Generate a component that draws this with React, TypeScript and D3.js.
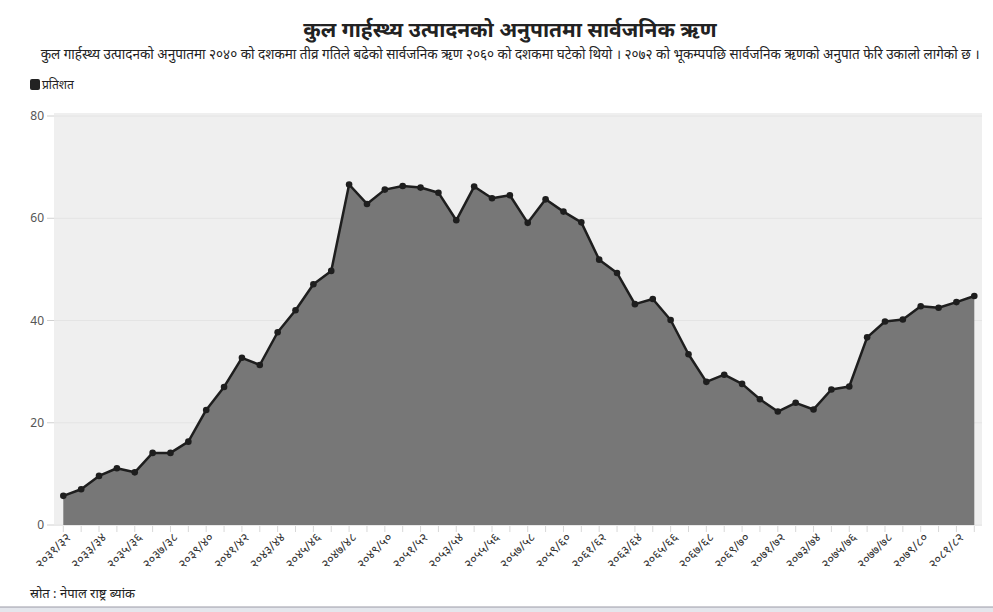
import React from 'react'
import * as d3 from 'd3'

const years = [
  '२०३१/३२', '२०३२/३३', '२०३३/३४', '२०३४/३५', '२०३५/३६', '२०३६/३७', '२०३७/३८', '२०३८/३९',
  '२०३९/४०', '२०४०/४१', '२०४१/४२', '२०४२/४३', '२०४३/४४', '२०४४/४५', '२०४५/४६', '२०४६/४७',
  '२०४७/४८', '२०४८/४९', '२०४९/५०', '२०५०/५१', '२०५१/५२', '२०५२/५३', '२०५३/५४', '२०५४/५५',
  '२०५५/५६', '२०५६/५७', '२०५७/५८', '२०५८/५९', '२०५९/६०', '२०६०/६१', '२०६१/६२', '२०६२/६३',
  '२०६३/६४', '२०६४/६५', '२०६५/६६', '२०६६/६७', '२०६७/६८', '२०६८/६९', '२०६९/७०', '२०७०/७१',
  '२०७१/७२', '२०७२/७३', '२०७३/७४', '२०७४/७५', '२०७५/७६', '२०७६/७७', '२०७७/७८', '२०७८/७९',
  '२०७९/८०', '२०८०/८१', '२०८१/८२', '२०८२/८३',
]

const debtRatio = [
  5.7, 7.0, 9.6, 11.1, 10.3, 14.1, 14.1, 16.3,
  22.5, 27.0, 32.7, 31.3, 37.7, 42.0, 47.1, 49.7,
  66.6, 62.8, 65.6, 66.3, 66.0, 65.0, 59.6, 66.2,
  63.9, 64.5, 59.1, 63.7, 61.3, 59.2, 51.9, 49.3,
  43.2, 44.2, 40.1, 33.4, 28.0, 29.4, 27.6, 24.6,
  22.2, 23.9, 22.6, 26.5, 27.1, 36.7, 39.8, 40.2,
  42.8, 42.5, 43.6, 44.8,
]

const yTicks = [0, 20, 40, 60, 80]

const title = 'कुल गार्हस्थ्य उत्पादनको अनुपातमा सार्वजनिक ऋण'
const subtitle = 'कुल गार्हस्थ्य उत्पादनको अनुपातमा २०४० को दशकमा तीव्र गतिले बढेको सार्वजनिक ऋण २०६० को दशकमा घटेको थियो । २०७२ को भूकम्पपछि सार्वजनिक ऋणको अनुपात फेरि उकालो लागेको छ ।'
const legendLabel = 'प्रतिशत'
const source = 'स्रोत : नेपाल राष्ट्र ब्यांक'

const W = 993
const H = 612
const font = "'Noto Sans', 'Noto Sans Devanagari', sans-serif"

export default function App() {
  const x = d3.scalePoint<string>().domain(years).range([63.3, 974.3])
  const y = d3.scaleLinear().domain([0, 80]).range([525, 116])

  const data = years.map((yr, i) => ({ yr, v: debtRatio[i] }))

  const area = d3.area<{ yr: string; v: number }>()
    .x(d => x(d.yr) as number)
    .y0(y(0))
    .y1(d => y(d.v))

  const line = d3.line<{ yr: string; v: number }>()
    .x(d => x(d.yr) as number)
    .y(d => y(d.v))

  return (
    <svg width={W} height={H} style={{ position: 'absolute', left: 0, top: 0, background: '#fff' }}>
      <text x={510} y={37} textAnchor="middle" fontFamily={font} fontSize={21} fontWeight="bold" fill="#222">
        {title}
      </text>
      <text x={510} y={59} textAnchor="middle" fontFamily={font} fontSize={13.5} fill="#222">
        {subtitle}
      </text>

      <rect x={30} y={79} width={10} height={11} rx={2} fill="#222" />
      <text x={42} y={89} fontFamily={font} fontSize={12} fill="#222">{legendLabel}</text>

      <rect x={54} y={113} width={928} height={413} fill="#efefef" />
      {yTicks.map(t => (
        <g key={t}>
          <line x1={54} x2={982} y1={y(t)} y2={y(t)} stroke="#e4e4e4" />
          <line x1={47} x2={54} y1={y(t)} y2={y(t)} stroke="#d0d0d0" />
          <text x={44} y={y(t) + 4} textAnchor="end" fontFamily={font} fontSize={12} fill="#555">{t}</text>
        </g>
      ))}

      <path d={area(data) as string} fill="#777" />
      <path d={line(data) as string} fill="none" stroke="#1e1e1e" strokeWidth={2.5} strokeLinejoin="round" />
      {data.map(d => (
        <circle key={d.yr} cx={x(d.yr)} cy={y(d.v)} r={3.3} fill="#1e1e1e" />
      ))}

      {years.map((yr, i) => (
        <g key={yr} transform={`translate(${x(yr)},526)`}>
          <line y1={0} y2={6} stroke="#d8d8d8" />
          {i % 2 === 0 && (
            <text transform="translate(2,6) rotate(-45)" textAnchor="end" dy="0.7em" fontFamily={font} fontSize={12.5} fill="#333">
              {yr}
            </text>
          )}
        </g>
      ))}

      <text x={30} y={598} fontFamily={font} fontSize={13} fill="#222">{source}</text>

      <rect x={0} y={607} width={W} height={5} fill="#e4e6ec" />
      <line x1={0} x2={W} y1={607} y2={607} stroke="#9a9aa6" />
    </svg>
  )
}
